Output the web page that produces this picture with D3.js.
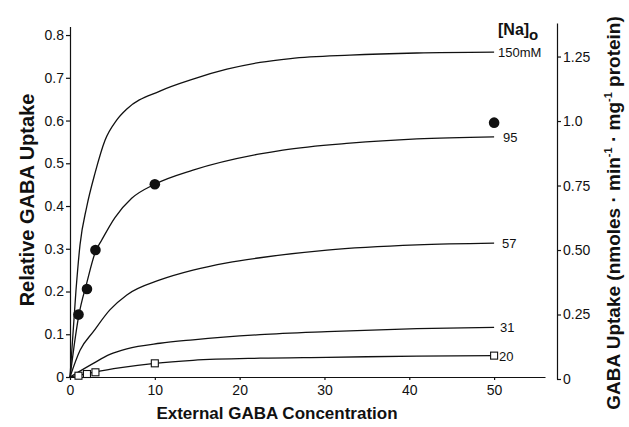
<!DOCTYPE html>
<html>
<head>
<meta charset="utf-8">
<script src="https://cdn.jsdelivr.net/npm/d3@7"></script>
<style>
    body { margin: 0; background: #fff; }
    svg { display: block; font-family: "Liberation Sans", Arial, sans-serif; }
    .tick text { font-size: 14px; fill: #111; }
    .title { font-weight: bold; font-size: 17px; fill: #111; }
    .lbl { font-size: 13px; fill: #111; }
</style>
</head>
<body>
<main></main>
<script>
// curves: [GABA concentration, relative uptake]
const curve150 = [[0,0],[0.71,0.204],[1.18,0.309],[1.97,0.398],[2.95,0.477],[4.13,0.554],[5.5,0.601],[6.7,0.627],[10.6,0.669],[14.5,0.697],[18.5,0.72],[22.4,0.736],[26,0.745],[33,0.753],[40.9,0.758],[50,0.76]];
const curve95 = [[0,0],[0.5,0.075],[1,0.14],[2,0.222],[3,0.293],[3.73,0.32],[5.3,0.373],[7.27,0.418],[10,0.451],[14.5,0.484],[22.4,0.522],[25.1,0.531],[33,0.547],[40.9,0.557],[50,0.562]];
const curve57 = [[0,0],[1.2,0.063],[2.75,0.106],[4.7,0.157],[6.7,0.192],[10.6,0.227],[14.5,0.25],[18.5,0.267],[22.4,0.279],[30.3,0.297],[40.9,0.309],[50,0.313]];
const curve31 = [[0,0],[2.75,0.032],[4.7,0.053],[6.7,0.066],[10.6,0.079],[14.5,0.087],[22.4,0.099],[30.3,0.106],[40.9,0.113],[50,0.116]];
const curve20 = [[0,0],[1,0.004],[2,0.008],[3,0.012],[6,0.022],[10,0.032],[14.5,0.039],[22.4,0.044],[30.3,0.046],[40.9,0.049],[50,0.05]];

// measured points
const dotsX = [1, 2, 3, 10, 50];
const dotsY = [0.146, 0.206, 0.297, 0.451, 0.595];
const squaresX = [1, 2, 3, 10, 50];
const squaresY = [0.003, 0.007, 0.011, 0.032, 0.05];

const curveLabels = ["150mM", "95", "57", "31", "20"];

const xTicks = [0, 10, 20, 30, 40, 50];
const yTicks = [0, 0.1, 0.2, 0.3, 0.4, 0.5, 0.6, 0.7, 0.8];
const rightTicks = [0, 0.25, 0.5, 0.75, 1.0, 1.25];
const rightTickLabels = ["0", "0.25", "0.50", "0.75", "1.0", "1.25"];

const svgSize = { width: 629, height: 427 };

const createCanvas = () => {
    return d3.select("main")
        .append("svg")
        .attr("width", svgSize.width)
        .attr("height", svgSize.height);
};

const defineScales = () => {
    const xScale = d3.scaleLinear().domain([0, 56]).range([70, 545]);
    const yScale = d3.scaleLinear().domain([0, 0.82]).range([377, 26.5]);
    const yRight = d3.scaleLinear().domain([0, 1.38]).range([379, 23]);
    return { xScale, yScale, yRight };
};

const createAxes = (svg, scales) => {
    svg.append("g")
        .attr("transform", "translate(70,0)")
        .call(d3.axisLeft(scales.yScale)
            .tickValues(yTicks)
            .tickSize(4)
            .tickSizeOuter(0)
            .tickPadding(2)
            .tickFormat(d => d === 0 ? "0" : d3.format(".1f")(d)));

    svg.append("g")
        .attr("transform", "translate(0,377)")
        .call(d3.axisBottom(scales.xScale)
            .tickValues(xTicks)
            .tickSize(3)
            .tickSizeOuter(0)
            .tickPadding(5));

    svg.append("g")
        .attr("transform", "translate(557,0)")
        .call(d3.axisRight(scales.yRight)
            .tickValues(rightTicks)
            .tickSize(4)
            .tickSizeOuter(0)
            .tickPadding(2)
            .tickFormat((d, i) => rightTickLabels[i]));

    svg.selectAll(".domain, .tick line").attr("stroke", "#111").attr("stroke-width", 1.2);
};

const createCurves = (svg, scales) => {
    const line = d3.line()
        .x(d => scales.xScale(d[0]))
        .y(d => scales.yScale(d[1]))
        .curve(d3.curveMonotoneX);

    const curves = [curve150, curve95, curve57, curve31, curve20];
    svg.selectAll("path.curve")
        .data(curves)
        .enter()
        .append("path")
        .attr("class", "curve")
        .attr("d", line)
        .attr("fill", "none")
        .attr("stroke", "#111")
        .attr("stroke-width", 1.3);

    const offsets = [4, 9, 8, 6, 5];
    svg.selectAll("text.lbl")
        .data(curves)
        .enter()
        .append("text")
        .attr("class", "lbl")
        .attr("x", (d, i) => scales.xScale(50) + offsets[i])
        .attr("y", (d, i) => scales.yScale(d[d.length - 1][1]) + 5)
        .text((d, i) => curveLabels[i]);
};

const createMarkers = (svg, scales) => {
    svg.selectAll("circle.dot")
        .data(dotsX)
        .enter()
        .append("circle")
        .attr("class", "dot")
        .attr("cx", d => scales.xScale(d))
        .attr("cy", (d, i) => scales.yScale(dotsY[i]))
        .attr("r", 5.3)
        .attr("fill", "#111");

    svg.selectAll("rect.sq")
        .data(squaresX)
        .enter()
        .append("rect")
        .attr("class", "sq")
        .attr("x", d => scales.xScale(d) - 3.5)
        .attr("y", (d, i) => scales.yScale(squaresY[i]) - 3.5)
        .attr("width", 7)
        .attr("height", 7)
        .attr("fill", "#fff")
        .attr("stroke", "#111")
        .attr("stroke-width", 1.1);
};

const createTitles = (svg) => {
    svg.append("text")
        .attr("class", "title")
        .attr("text-anchor", "middle")
        .attr("transform", "translate(34,200) rotate(-90)")
        .style("font-size", "20px")
        .text("Relative GABA Uptake");

    svg.append("text")
        .attr("class", "title")
        .attr("text-anchor", "middle")
        .attr("x", 277)
        .attr("y", 419)
        .text("External GABA Concentration");

    const right = svg.append("text")
        .attr("class", "title")
        .attr("text-anchor", "middle")
        .attr("transform", "translate(620,213) rotate(-90)")
        .style("font-size", "19px");
    right.append("tspan").text("GABA Uptake (nmoles \u00b7 min");
    right.append("tspan").attr("dy", -8).style("font-size", "11px").text("-1");
    right.append("tspan").attr("dy", 8).text(" \u00b7 mg");
    right.append("tspan").attr("dy", -8).style("font-size", "11px").text("-1");
    right.append("tspan").attr("dy", 8).text(" protein)");

    const na = svg.append("text")
        .attr("class", "title")
        .attr("x", 498)
        .attr("y", 35)
        .style("font-size", "16px");
    na.append("tspan").text("[Na]");
    na.append("tspan").attr("dy", 5).style("font-size", "15px").text("o");
};

const driver = () => {
    const svg = createCanvas();
    const scales = defineScales();
    createAxes(svg, scales);
    createCurves(svg, scales);
    createMarkers(svg, scales);
    createTitles(svg);
};

driver();
</script>
</body>
</html>
